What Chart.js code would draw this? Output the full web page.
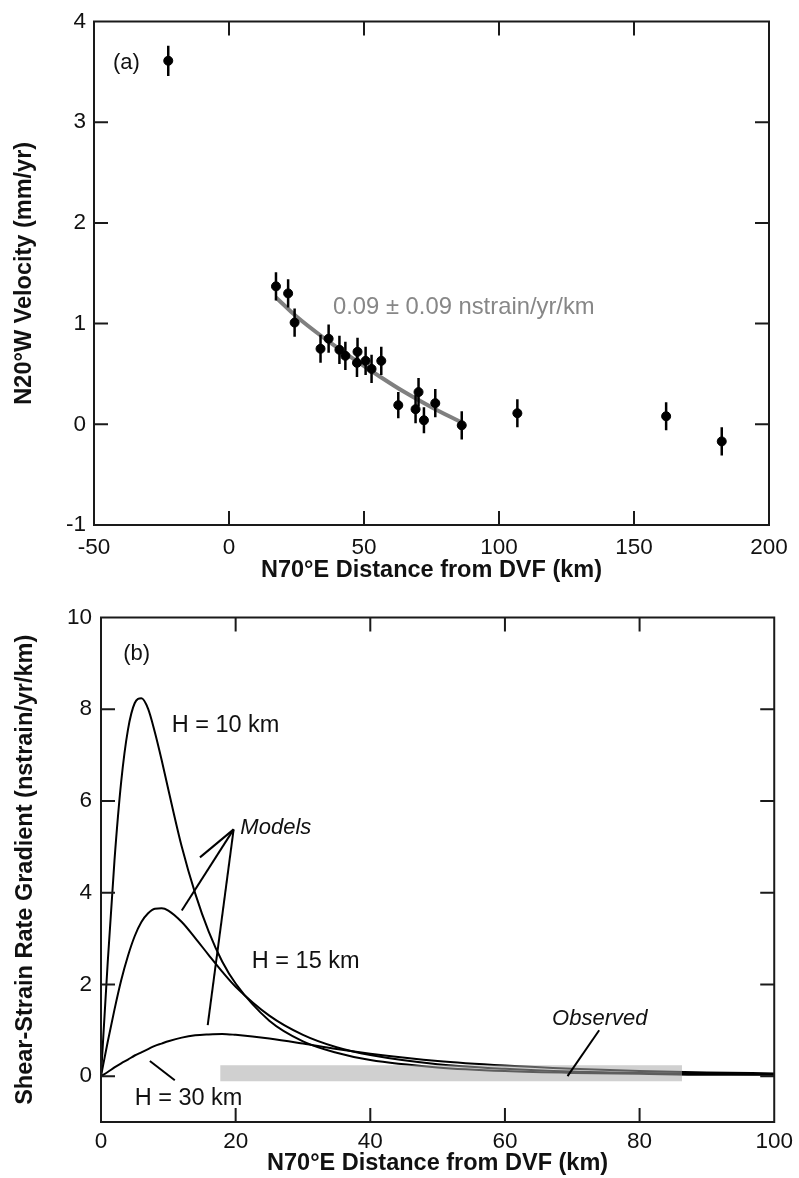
<!DOCTYPE html>
<html>
<head>
<meta charset="utf-8">
<script src="https://cdn.jsdelivr.net/npm/chart.js@4.4.0/dist/chart.umd.min.js"></script>
<style>
  body { margin: 0; background: #fff; }
  #wrap { position: relative; width: 799px; height: 1178px; }
  canvas { position: absolute; left: 0; }
</style>
</head>
<body>
<div id="wrap">
  <canvas id="chartA" width="799" height="595" style="top:0"></canvas>
  <canvas id="chartB" width="799" height="583" style="top:595px"></canvas>
</div>
<script>
// panel (a): N20W velocity vs distance, with 1-sigma bars
const distA = [-22.5, 17.4, 21.9, 24.3, 33.9, 36.9, 40.9, 43.1, 47.6, 47.4, 50.6, 52.8, 56.4, 62.7, 69.1, 70.2, 72.2, 76.4, 86.2, 106.8, 161.9, 182.5];
const velA  = [3.61, 1.37, 1.30, 1.01, 0.75, 0.85, 0.74, 0.68, 0.72, 0.61, 0.63, 0.55, 0.63, 0.19, 0.15, 0.32, 0.04, 0.21, -0.01, 0.11, 0.08, -0.17];
const errA  = [0.15, 0.14, 0.14, 0.14, 0.14, 0.14, 0.14, 0.14, 0.14, 0.14, 0.14, 0.14, 0.14, 0.13, 0.14, 0.14, 0.13, 0.14, 0.14, 0.14, 0.14, 0.14];
const fitX  = [17.4, 25, 35, 45, 55, 65, 75, 86];
const fitY  = [1.26, 1.07, 0.86, 0.67, 0.49, 0.32, 0.17, 0.02];
const xTicksA = [-50, 0, 50, 100, 150, 200];
const yTicksA = [-1, 0, 1, 2, 3, 4];

// panel (b): model shear-strain rate gradients and the observed band
const distB = [0, 1, 2, 3, 4, 5, 6, 7, 8, 9, 10, 12, 14, 16, 18, 20, 25, 30, 35, 40, 50, 60, 70, 80, 90, 100];
const h10 = [0, 2.49, 4.70, 6.42, 7.55, 8.13, 8.24, 8.01, 7.50, 6.90, 6.25, 5.00, 3.98, 3.15, 2.50, 2.02, 1.21, 0.76, 0.51, 0.35, 0.19, 0.11, 0.07, 0.05, 0.03, 0.03];
const h15 = [0, 0.75, 1.45, 2.09, 2.62, 3.05, 3.36, 3.55, 3.65, 3.66, 3.61, 3.36, 3.01, 2.64, 2.28, 1.95, 1.32, 0.90, 0.63, 0.46, 0.26, 0.16, 0.10, 0.07, 0.05, 0.04];
const h30 = [0, 0.09, 0.19, 0.28, 0.36, 0.45, 0.52, 0.59, 0.66, 0.71, 0.76, 0.84, 0.89, 0.91, 0.92, 0.90, 0.82, 0.71, 0.59, 0.49, 0.33, 0.23, 0.16, 0.11, 0.08, 0.06];
const obsX = [17.7, 86.3];
const obsTop = [0.24, 0.24];
const obsBottom = [-0.11, -0.11];
const xTicksB = [0, 20, 40, 60, 80, 100];
const yTicksB = [0, 2, 4, 6, 8, 10];

const FONT = '"Liberation Sans", Arial, Helvetica, sans-serif';
Chart.defaults.font.family = FONT;
Chart.defaults.color = '#111';

const pts = (xs, ys) => xs.map((x, i) => ({ x, y: ys[i] }));

// box round the plot with inward ticks on all four sides
const framePlugin = {
  id: 'frame',
  afterDatasetsDraw(chart) {
    const { ctx, chartArea: a, scales: { x, y } } = chart;
    const len = 14;
    ctx.save();
    ctx.strokeStyle = '#1a1a1a';
    ctx.lineWidth = 2;
    ctx.strokeRect(a.left, a.top, a.right - a.left, a.bottom - a.top);
    ctx.beginPath();
    x.ticks.forEach(t => {
      if (t.value <= x.min || t.value >= x.max) return;
      const px = x.getPixelForValue(t.value);
      ctx.moveTo(px, a.bottom); ctx.lineTo(px, a.bottom - len);
      ctx.moveTo(px, a.top); ctx.lineTo(px, a.top + len);
    });
    y.ticks.forEach(t => {
      if (t.value <= y.min || t.value >= y.max) return;
      const py = y.getPixelForValue(t.value);
      ctx.moveTo(a.left, py); ctx.lineTo(a.left + len, py);
      ctx.moveTo(a.right, py); ctx.lineTo(a.right - len, py);
    });
    ctx.stroke();
    ctx.restore();
  }
};

// vertical error bars for panel (a)
const errorBarPlugin = {
  id: 'errbars',
  afterDatasetsDraw(chart) {
    const { ctx, scales: { x, y } } = chart;
    ctx.save();
    ctx.strokeStyle = '#000';
    ctx.lineWidth = 2.5;
    ctx.beginPath();
    distA.forEach((d, i) => {
      const px = x.getPixelForValue(d);
      ctx.moveTo(px, y.getPixelForValue(velA[i] + errA[i]));
      ctx.lineTo(px, y.getPixelForValue(velA[i] - errA[i]));
    });
    ctx.stroke();
    ctx.restore();
  }
};

// text labels and leader lines, placed in data units
const notesPlugin = {
  id: 'notes',
  afterDraw(chart, args, opts) {
    const { ctx, scales: { x, y } } = chart;
    ctx.save();
    ctx.strokeStyle = '#000';
    ctx.lineWidth = 2;
    (opts.lines || []).forEach(l => {
      ctx.beginPath();
      ctx.moveTo(x.getPixelForValue(l[0][0]), y.getPixelForValue(l[0][1]));
      ctx.lineTo(x.getPixelForValue(l[1][0]), y.getPixelForValue(l[1][1]));
      ctx.stroke();
    });
    ctx.textBaseline = 'middle';
    ctx.textAlign = 'left';
    (opts.items || []).forEach(n => {
      ctx.font = (n.italic ? 'italic ' : '') + (n.size || 23.5) + 'px ' + FONT;
      ctx.fillStyle = n.color || '#111';
      ctx.fillText(n.text, x.getPixelForValue(n.x), y.getPixelForValue(n.y));
    });
    ctx.restore();
  }
};

function axis(min, max, ticks, fit, title, titlePad, tickPad) {
  return {
    type: 'linear', min, max,
    grid: { display: false, drawTicks: false },
    border: { display: false },
    afterBuildTicks: s => { s.ticks = ticks.map(v => ({ value: v })); },
    afterFit: fit,
    ticks: { padding: tickPad, font: { size: 22.5 }, color: '#111', maxRotation: 0, autoSkip: false, callback: v => String(v) },
    title: { display: true, text: title, color: '#111', font: { size: 23.5, weight: 'bold' }, padding: titlePad }
  };
}

new Chart(document.getElementById('chartA'), {
  type: 'scatter',
  data: {
    datasets: [
      { data: pts(distA, velA), backgroundColor: '#000', borderColor: '#000', pointRadius: 4.5, order: 0 },
      { data: pts(fitX, fitY), showLine: true, borderColor: '#808080', borderWidth: 4, pointRadius: 0, tension: 0.4, order: 1 }
    ]
  },
  options: {
    responsive: false, animation: false, events: [], devicePixelRatio: 1,
    layout: { padding: { top: 20, right: 30, left: 0, bottom: 0 } },
    plugins: {
      legend: { display: false }, tooltip: { enabled: false },
      notes: {
        items: [
          { text: '(a)', x: -43, y: 3.59, size: 22 },
          { text: '0.09 \u00b1 0.09 nstrain/yr/km', x: 38.5, y: 1.16, color: '#878787', size: 23.8 }
        ]
      }
    },
    scales: {
      x: axis(-50, 200, xTicksA, s => { s.height = 70; }, 'N70\u00b0E Distance from DVF (km)', { top: 0, bottom: 10 }, 9),
      y: axis(-1, 4, yTicksA, s => { s.width = 94; }, 'N20\u00b0W Velocity (mm/yr)', { top: 10, bottom: 0 }, 8)
    }
  },
  plugins: [errorBarPlugin, framePlugin, notesPlugin]
});

const curve = d => ({ data: pts(distB, d), showLine: true, borderColor: '#000', borderWidth: 2, pointRadius: 0, cubicInterpolationMode: 'monotone', order: 1 });

new Chart(document.getElementById('chartB'), {
  type: 'scatter',
  data: {
    datasets: [
      { data: pts(obsX, obsTop), showLine: true, fill: '+1', backgroundColor: 'rgba(170,170,170,0.55)', borderColor: 'transparent', borderWidth: 0, pointRadius: 0, order: 0 },
      { data: pts(obsX, obsBottom), showLine: true, borderColor: 'transparent', borderWidth: 0, pointRadius: 0, order: 0 },
      curve(h10), curve(h15), curve(h30)
    ]
  },
  options: {
    responsive: false, animation: false, events: [], devicePixelRatio: 1,
    layout: { padding: { top: 22, right: 23, left: 0, bottom: 0 } },
    plugins: {
      legend: { display: false }, tooltip: { enabled: false },
      notes: {
        items: [
          { text: '(b)', x: 3.3, y: 9.2, size: 22 },
          { text: 'H = 10 km', x: 10.5, y: 7.65 },
          { text: 'Models', x: 20.7, y: 5.42, italic: true, size: 22 },
          { text: 'H = 15 km', x: 22.4, y: 2.51 },
          { text: 'H = 30 km', x: 5.0, y: -0.48 },
          { text: 'Observed', x: 67.0, y: 1.25, italic: true, size: 22 }
        ],
        lines: [
          [[19.7, 5.38], [14.7, 4.77]],
          [[19.7, 5.38], [12.0, 3.61]],
          [[19.7, 5.38], [15.85, 1.11]],
          [[7.26, 0.33], [10.96, -0.09]],
          [[74.0, 1.0], [69.3, 0.0]]
        ]
      }
    },
    scales: {
      x: axis(0, 100, xTicksB, s => { s.height = 56; }, 'N70\u00b0E Distance from DVF (km)', { top: 0, bottom: 0 }, 6),
      y: axis(-1, 10, yTicksB, s => { s.width = 101; }, 'Shear-Strain Rate Gradient (nstrain/yr/km)', { top: 11, bottom: 0 }, 9)
    }
  },
  plugins: [framePlugin, notesPlugin]
});
</script>
</body>
</html>
